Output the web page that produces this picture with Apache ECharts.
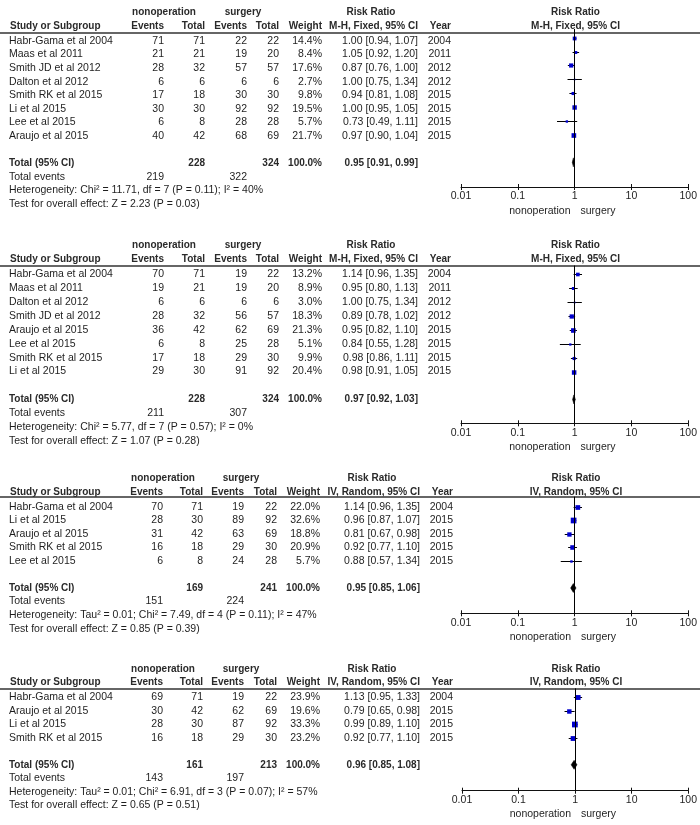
<!DOCTYPE html>
<html><head><meta charset="utf-8">
<script src="https://cdn.jsdelivr.net/npm/echarts@6/dist/echarts.min.js"></script>
<style>html,body{margin:0;padding:0;background:#fff}#c{width:700px;height:825px}</style>
</head><body><div id="c"></div>
<script>
// ---------------- DATA ----------------
const studies = [
  ['Habr-Gama et al 2004','Maas et al 2011','Smith JD et al 2012','Dalton et al 2012','Smith RK et al 2015','Li et al 2015','Lee et al 2015','Araujo et al 2015'],
  ['Habr-Gama et al 2004','Maas et al 2011','Dalton et al 2012','Smith JD et al 2012','Araujo et al 2015','Lee et al 2015','Smith RK et al 2015','Li et al 2015'],
  ['Habr-Gama et al 2004','Li et al 2015','Araujo et al 2015','Smith RK et al 2015','Lee et al 2015'],
  ['Habr-Gama et al 2004','Araujo et al 2015','Li et al 2015','Smith RK et al 2015']
];
const nonopEvents = [[71,21,28,6,17,30,6,40],[70,19,6,28,36,6,17,29],[70,28,31,16,6],[69,30,28,16]];
const nonopTotal  = [[71,21,32,6,18,30,8,42],[71,21,6,32,42,8,18,30],[71,30,42,18,8],[71,42,30,18]];
const surgEvents  = [[22,19,57,6,30,92,28,68],[19,19,6,56,62,25,29,91],[19,89,63,29,24],[19,62,87,29]];
const surgTotal   = [[22,20,57,6,30,92,28,69],[22,20,6,57,69,28,30,92],[22,92,69,30,28],[22,69,92,30]];
const weights     = [[14.4,8.4,17.6,2.7,9.8,19.5,5.7,21.7],[13.2,8.9,3.0,18.3,21.3,5.1,9.9,20.4],[22.0,32.6,18.8,20.9,5.7],[23.9,19.6,33.3,23.2]];
const riskRatio   = [[1.00,1.05,0.87,1.00,0.94,1.00,0.73,0.97],[1.14,0.95,1.00,0.89,0.95,0.84,0.98,0.98],[1.14,0.96,0.81,0.92,0.88],[1.13,0.79,0.99,0.92]];
const ciLow       = [[0.94,0.92,0.76,0.75,0.81,0.95,0.49,0.90],[0.96,0.80,0.75,0.78,0.82,0.55,0.86,0.91],[0.96,0.87,0.67,0.77,0.57],[0.95,0.65,0.89,0.77]];
const ciHigh      = [[1.07,1.20,1.00,1.34,1.08,1.05,1.11,1.04],[1.35,1.13,1.34,1.02,1.10,1.28,1.11,1.05],[1.35,1.07,0.98,1.10,1.34],[1.33,0.98,1.10,1.10]];
const years       = [[2004,2011,2012,2012,2015,2015,2015,2015],[2004,2011,2012,2012,2015,2015,2015,2015],[2004,2015,2015,2015,2015],[2004,2015,2015,2015]];
const totalNonop  = [228,228,169,161];
const totalSurg   = [324,324,241,213];
const totalRR     = [0.95,0.97,0.95,0.96];
const totalLow    = [0.91,0.92,0.85,0.85];
const totalHigh   = [0.99,1.03,1.06,1.08];
const eventsNonop = [219,211,151,143];
const eventsSurg  = [322,307,224,197];
const methods = ['M-H, Fixed, 95% CI','M-H, Fixed, 95% CI','IV, Random, 95% CI','IV, Random, 95% CI'];
const heterogeneity = [
  'Heterogeneity: Chi² = 11.71, df = 7 (P = 0.11); I² = 40%',
  'Heterogeneity: Chi² = 5.77, df = 7 (P = 0.57); I² = 0%',
  'Heterogeneity: Tau² = 0.01; Chi² = 7.49, df = 4 (P = 0.11); I² = 47%',
  'Heterogeneity: Tau² = 0.01; Chi² = 6.91, df = 3 (P = 0.07); I² = 57%'
];
const overallEffect = [
  'Test for overall effect: Z = 2.23 (P = 0.03)',
  'Test for overall effect: Z = 1.07 (P = 0.28)',
  'Test for overall effect: Z = 0.85 (P = 0.39)',
  'Test for overall effect: Z = 0.65 (P = 0.51)'
];
const tickLabels = ['0.01','0.1','1','10','100'];
const favoursLeft = 'nonoperation';
const favoursRight = 'surgery';

// ---------------- LAYOUT ----------------
const FONT = '"Liberation Sans", Arial, sans-serif';
const FS = 10.5;      // body text
const FSB = 10;       // bold header / total text
const TXT = '#1e1e1e';
const TXTB = '#2a2a2a';
const layout = [
  {y0:37.7,  s:13.85, line:29,    axis:187,   plotL:461, plotR:690, cols:'A'},
  {y0:274.3, s:13.9,  line:265.5, axis:423.3, plotL:461, plotR:690, cols:'A'},
  {y0:506.7, s:13.55, line:496.7, axis:613.3, plotL:461, plotR:690, cols:'B'},
  {y0:697.3, s:13.5,  line:688.3, axis:790.7, plotL:462, plotR:690, cols:'B'}
];
const colsA = {study:9, ne:164, nt:205, se:247, st:279, w:322, rr:418, yr:451, rrHead:371, grp1:164, grp2:243, plotC:575.5};
const colsB = {study:9, ne:163, nt:203, se:244, st:277, w:320, rr:420, yr:453, rrHead:372, grp1:163, grp2:241, plotC:576};

const f2 = v => v.toFixed(2);
const rrText = (r,l,h) => `${f2(r)} [${f2(l)}, ${f2(h)}]`;

const grid=[], xAxis=[], yAxis=[], series=[];

layout.forEach((L,p)=>{
  const n = studies[p].length;
  const C = L.cols==='A' ? colsA : colsB;

  // ---- text grid (columns) ----
  const tg = grid.length;
  grid.push({left:0, width:700, top:L.y0-3*L.s, height:(n+8)*L.s});
  const txa = xAxis.length;
  xAxis.push({type:'value', gridIndex:tg, min:0, max:700, show:false, axisLine:{onZero:false}});
  const tya = yAxis.length;
  yAxis.push({type:'value', gridIndex:tg, min:-3, max:n+5, inverse:true, show:false, axisLine:{onZero:false}});

  const cells=[];
  const add=(x,row,text,align,bold)=>cells.push({x,row,text:String(text),align,bold:!!bold});
  const h1=-2.08, h2=-1.08;
  add(C.grp1,h1,'nonoperation','center',true);
  add(C.grp2,h1,'surgery','center',true);
  add(C.rrHead,h1,'Risk Ratio','center',true);
  add(C.plotC,h1,'Risk Ratio','center',true);
  add(C.study+1,h2,'Study or Subgroup','left',true);
  add(C.ne,h2,'Events','right',true);
  add(C.nt,h2,'Total','right',true);
  add(C.se,h2,'Events','right',true);
  add(C.st,h2,'Total','right',true);
  add(C.w,h2,'Weight','right',true);
  add(C.rr,h2,methods[p],'right',true);
  add(C.yr,h2,'Year','right',true);
  add(C.plotC,h2,methods[p],'center',true);
  studies[p].forEach((s,i)=>{
    add(C.study,i,s,'left');
    add(C.ne,i,nonopEvents[p][i],'right');
    add(C.nt,i,nonopTotal[p][i],'right');
    add(C.se,i,surgEvents[p][i],'right');
    add(C.st,i,surgTotal[p][i],'right');
    add(C.w,i,weights[p][i].toFixed(1)+'%','right');
    add(C.rr,i,rrText(riskRatio[p][i],ciLow[p][i],ciHigh[p][i]),'right');
    add(C.yr,i,years[p][i],'right');
  });
  const tr=n+1;
  add(C.study,tr,'Total (95% CI)','left',true);
  add(C.nt,tr,totalNonop[p],'right',true);
  add(C.st,tr,totalSurg[p],'right',true);
  add(C.w,tr,'100.0%','right',true);
  add(C.rr,tr,rrText(totalRR[p],totalLow[p],totalHigh[p]),'right',true);
  add(C.study,n+2,'Total events','left');
  add(C.ne,n+2,eventsNonop[p],'right');
  add(C.se,n+2,eventsSurg[p],'right');
  add(C.study,n+3,heterogeneity[p],'left');
  add(C.study,n+4,overallEffect[p],'left');
  const favRow=(L.axis+23.5-L.y0)/L.s;
  add(C.plotC-5,favRow,favoursLeft,'right');
  add(C.plotC+5,favRow,favoursRight,'left');

  series.push({
    type:'custom', xAxisIndex:txa, yAxisIndex:tya, silent:true, clip:false,
    data:cells.map(c=>[c.x,c.row]), encode:{x:0,y:1},
    renderItem:(params,api)=>{
      const c=cells[params.dataIndex];
      const pt=api.coord([api.value(0),api.value(1)]);
      return {type:'text', x:pt[0], y:pt[1], style:{text:c.text, align:c.align, verticalAlign:'middle',
        fontSize:c.bold?FSB:FS, fontFamily:FONT, fontWeight:c.bold?'bold':'normal', fill:c.bold?TXTB:TXT}};
    },
    markLine:{silent:true, symbol:'none', animation:false, label:{show:false},
      lineStyle:{color:'#333', width:1.5, type:'solid'},
      data:[{yAxis:(L.line-L.y0)/L.s}]}
  });

  // ---- forest plot grid ----
  const pg = grid.length;
  grid.push({left:L.plotL, width:L.plotR-L.plotL, top:L.line, height:L.axis-L.line});
  const pxa = xAxis.length;
  const fmt = v => tickLabels[Math.round(Math.log10(v))+2];
  xAxis.push({type:'log', logBase:10, gridIndex:pg, min:0.01, max:100, position:'bottom',
    axisLine:{show:true, onZero:false, lineStyle:{color:'#111', width:1}},
    axisTick:{show:true, length:3, lineStyle:{color:'#111', width:1}},
    axisLabel:{show:true, margin:4, fontSize:FS, fontFamily:FONT, color:TXT, formatter:fmt},
    splitLine:{show:false}, minorTick:{show:false}});
  xAxis.push({type:'log', logBase:10, gridIndex:pg, min:0.01, max:100, position:'top', offset:-(L.axis-L.line),
    axisLine:{show:false, onZero:false},
    axisTick:{show:true, length:3, lineStyle:{color:'#111', width:1}},
    axisLabel:{show:false}, splitLine:{show:false}});
  const pya = yAxis.length;
  yAxis.push({type:'value', gridIndex:pg, min:(L.line-L.y0)/L.s, max:(L.axis-L.y0)/L.s, inverse:true, show:false, axisLine:{onZero:false}});

  const fdata = studies[p].map((s,i)=>[riskRatio[p][i], i, ciLow[p][i], ciHigh[p][i], weights[p][i]]);
  series.push({
    type:'custom', xAxisIndex:pxa, yAxisIndex:pya, silent:true, clip:false,
    data:fdata, encode:{x:[0,2,3], y:1}, z:3,
    renderItem:(params,api)=>{
      const c=api.coord([api.value(0),api.value(1)]);
      const lo=api.coord([api.value(2),api.value(1)]);
      const hi=api.coord([api.value(3),api.value(1)]);
      const side=Math.max(1.6, Math.sqrt(api.value(4))*1.0);
      const y=Math.round(c[1])+0.5;
      return {type:'group', children:[
        {type:'line', shape:{x1:lo[0], y1:y, x2:hi[0], y2:y}, style:{stroke:'#000', lineWidth:1}},
        {type:'rect', shape:{x:c[0]-side/2, y:y-side/2, width:side, height:side}, style:{fill:'#0000cc'}}
      ]};
    },
    markLine:{silent:true, symbol:'none', animation:false, label:{show:false},
      lineStyle:{color:'#000', width:1, type:'solid'}, data:[{xAxis:1}]}
  });
  series.push({
    type:'custom', xAxisIndex:pxa, yAxisIndex:pya, silent:true, clip:false, z:4,
    data:[[totalRR[p], n+1, totalLow[p], totalHigh[p]]], encode:{x:[0,2,3], y:1},
    renderItem:(params,api)=>{
      const c=api.coord([api.value(0),api.value(1)]);
      const lo=api.coord([api.value(2),api.value(1)]);
      const hi=api.coord([api.value(3),api.value(1)]);
      const h=4.5;
      return {type:'polygon', shape:{points:[[lo[0],c[1]],[c[0],c[1]-h],[hi[0],c[1]],[c[0],c[1]+h]]},
        style:{fill:'#000', stroke:'#000', lineWidth:0.5}};
    }
  });
});

const chart = echarts.init(document.getElementById('c'), null, {renderer:'canvas'});
chart.setOption({animation:false, backgroundColor:'#fff', grid, xAxis, yAxis, series});
</script>
</body></html>
